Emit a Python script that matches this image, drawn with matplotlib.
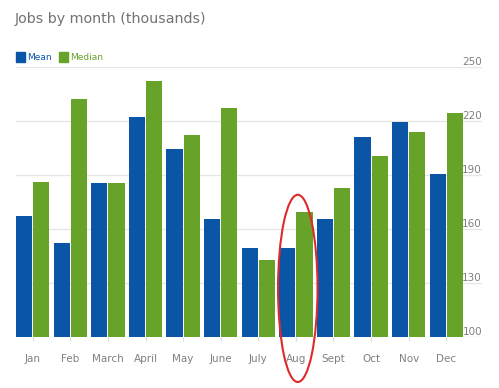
"""
Jobs by month — mean vs. median, grouped bars (thousands).
"""
import numpy as np
import matplotlib.pyplot as plt
from matplotlib.patches import Ellipse, Rectangle

months = ["Jan", "Feb", "March", "April", "May", "June",
          "July", "Aug", "Sept", "Oct", "Nov", "Dec"]
mean = [167.4, 152.4, 185.4, 222.0, 204.4, 165.4,
        149.3, 149.3, 165.4, 211.3, 219.4, 190.6]
median = [186.3, 232.2, 185.4, 242.2, 212.2, 227.4,
          142.6, 169.3, 182.6, 200.4, 213.9, 224.3]
yticks = [100, 130, 160, 190, 220, 250]
highlight = "Aug"

BLUE = "#0b55a7"
GREEN = "#67a329"
GRAY = "#808080"

fig = plt.figure(figsize=(4.99, 3.88), dpi=100)
ax = fig.add_axes([16/499, 51/388, 466/499, 270/388])

x = np.arange(len(months))
w = 0.43
ax.bar(x - 0.23, np.array(mean) - 100, w, bottom=100, color=BLUE, zorder=2)
ax.bar(x + 0.23, np.array(median) - 100, w, bottom=100, color=GREEN, zorder=2)

ax.set_xlim(-0.445, 11.95)
ax.set_ylim(100, 250)

# mřížka a popisky osy y (vpravo, nad čarou)
ax.set_yticks(yticks)
ax.yaxis.tick_right()
ax.grid(axis='y', color='#e6e6e6', lw=0.9, zorder=0)
ax.tick_params(axis='y', length=0, pad=0, labelsize=7.5, labelcolor=GRAY)
for lab in ax.get_yticklabels():
    lab.set_horizontalalignment('right')
    lab.set_verticalalignment('bottom')

ax.set_xticks(x)
ax.set_xticklabels(months)
ax.tick_params(axis='x', length=3, color='#dddddd', pad=9,
               labelsize=7.5, labelcolor=GRAY)
for s in ax.spines.values():
    s.set_visible(False)

# zvýraznění srpna
i = months.index(highlight)
ax.add_patch(Ellipse((i + 0.05, 127), 1.05, 104, fill=False,
                     edgecolor='#dd2a2a', lw=1.5, clip_on=False, zorder=5))

# titulek a legenda
fig.text(15/499, 1 - 19/388, "Jobs by month (thousands)", fontsize=10.3,
         color='#727272', va='center', ha='left')
ly = 1 - 57/388
fig.patches.append(Rectangle((16/499, ly - 4.5/388), 9/499, 9/388,
                             transform=fig.transFigure, color=BLUE))
fig.text(27/499, ly, "Mean", fontsize=6.5, color=BLUE, va='center')
fig.patches.append(Rectangle((59/499, ly - 4.5/388), 9/499, 9/388,
                             transform=fig.transFigure, color=GREEN))
fig.text(70/499, ly, "Median", fontsize=6.5, color=GREEN, va='center')

fig.savefig("out.png", dpi=100)
